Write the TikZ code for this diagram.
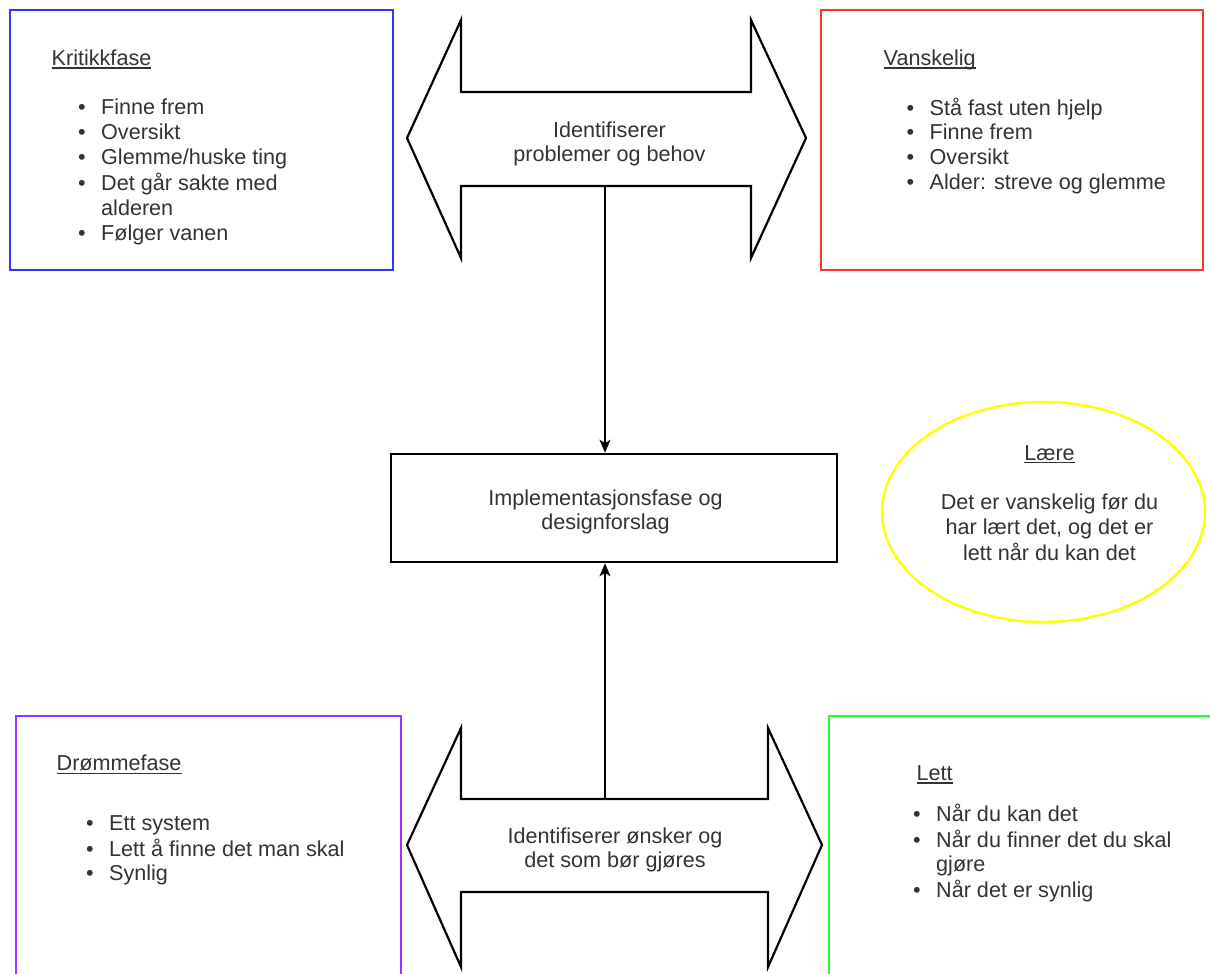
\documentclass[tikz,border=0pt]{standalone}
\usepackage{fontspec}
\setmainfont{Liberation Sans}
\usetikzlibrary{arrows.meta,shapes.geometric}

\definecolor{textgray}{RGB}{51,51,51}
\definecolor{blueframe}{RGB}{51,51,255}
\definecolor{redframe}{RGB}{255,51,51}
\definecolor{purpleframe}{RGB}{153,51,255}
\definecolor{greenframe}{RGB}{40,255,40}
\definecolor{yellowframe}{RGB}{255,255,0}

% bullet with a fixed hanging indent, and the matching indent for wrapped lines
\newcommand{\bul}{\makebox[23pt][l]{\textbullet}}
\newcommand{\hang}{\hspace*{23pt}}
% underline at a fixed depth below the baseline
\newsavebox\ulbox
\newcommand{\ul}[1]{\sbox\ulbox{#1}\rlap{\rule[-3pt]{\wd\ulbox}{1.1pt}}\usebox\ulbox}

\begin{document}
\begin{tikzpicture}[x=1pt,y=-1pt,
  frame/.style={draw, rectangle, line width=2.4pt, inner sep=0pt, anchor=north west},
  txt/.style={font=\fontsize{21.6}{24.8}\selectfont, text=textgray, inner sep=0pt, align=left, anchor=north west},
  ctxt/.style={txt, align=center, anchor=north},
  bigarrow/.style={draw=black, fill=white, line width=2.2pt, line join=miter},
  link/.style={draw=black, line width=1.3pt, -{Stealth[length=13pt,width=11pt,inset=3.5pt]}}
]
\useasboundingbox (0,0) rectangle (1210,974);
\fill[white] (0,0) rectangle (1210,974);

% ---- frames ----
\node[frame, draw=blueframe, minimum width=383pt, minimum height=260pt] (kritikk) at (9,9) {};
\node[frame, draw=redframe, minimum width=382pt, minimum height=260pt] (vanskelig) at (820,9) {};
\node[frame, draw=purpleframe, minimum width=385pt, minimum height=280pt] (drom) at (15,715) {};
\node[frame, draw=greenframe, minimum width=390pt, minimum height=280pt] (lett) at (828,715) {};
\node[draw=black, rectangle, line width=2.6pt, inner sep=0pt,
      minimum width=446pt, minimum height=108pt] (impl) at (614,508) {};
\node[draw=yellowframe, ellipse, line width=2.4pt, inner sep=0pt,
      minimum width=323pt, minimum height=220pt] (laere) at (1043.5,512) {};

% ---- double-headed block arrows ----
\draw[bigarrow] (407,138) -- (461,20) -- (461,92) -- (751,92) -- (751,20) -- (806,138)
  -- (751,258) -- (751,186) -- (461,186) -- (461,258) -- cycle;
\draw[bigarrow] (407,845) -- (461,728) -- (461,799) -- (768,799) -- (768,728) -- (822,845)
  -- (768,967) -- (768,892) -- (461,892) -- (461,967) -- cycle;
\coordinate (problemBase) at (605,186);
\coordinate (onskerTop) at (605,799);

% ---- connectors ----
\draw[link] (problemBase) -- (problemBase |- impl.north);
\draw[link] (onskerTop) -- (onskerTop |- impl.south);

% ---- texts ----
\node[txt] (kritikkTitle) at (51.5,48) {\strut\ul{Kritikkfase}};
\node[txt] (kritikkList) at (78,97.4) {\strut\bul Finne frem\\\strut\bul Oversikt\\
  \strut\bul Glemme/huske ting\\\strut\bul Det går sakte med\\\strut\hang alderen\\
  \strut\bul Følger vanen};

\node[txt] (vanskeligTitle) at (883.5,48) {\strut\ul{Vanskelig}};
\node[txt] (vanskeligList) at (906.5,97.4) {\strut\bul Stå fast uten hjelp\\\strut\bul Finne frem\\
  \strut\bul Oversikt\\\strut\bul Alder: streve og glemme};

\node[txt] (dromTitle) at (56.5,753.2) {\strut\ul{Drømmefase}};
\node[txt] (dromList) at (86,812.6) {\strut\bul Ett system\\\strut\bul Lett å finne det man skal\\
  \strut\bul Synlig};

\node[txt] (lettTitle) at (916.5,763) {\strut\ul{Lett}};
\node[txt] (lettList) at (913,803.6) {\strut\bul Når du kan det\\\strut\bul Når du finner det du skal\\
  \strut\hang gjøre\\\strut\bul Når det er synlig};

\node[ctxt] (problemText) at (609.5,119.6) {\strut Identifiserer\\\strut problemer og behov};
\node[ctxt] (onskerText) at (615,825.6) {\strut Identifiserer ønsker og\\\strut det som bør gjøres};
\node[ctxt] (implText) at (605.5,487.6) {\strut Implementasjonsfase og\\\strut designforslag};
\node[ctxt] (laereText) at (1049.5,442.6) {\strut\ul{Lære}\\\strut\\\strut Det er vanskelig før du\\
  \strut har lært det, og det er\\\strut lett når du kan det};
\end{tikzpicture}
\end{document}
